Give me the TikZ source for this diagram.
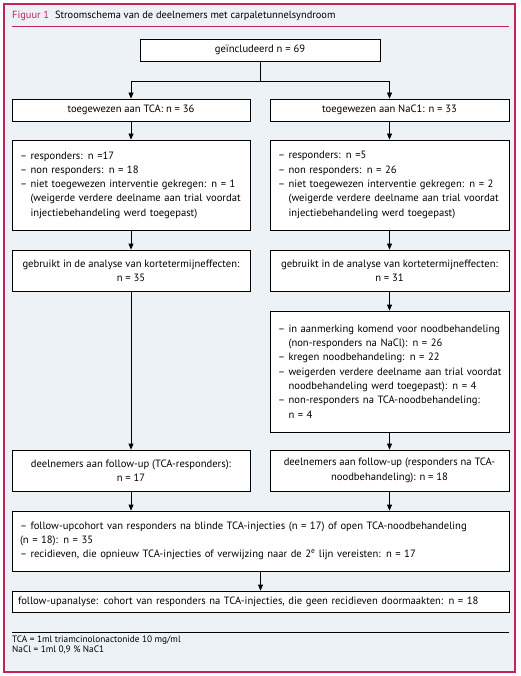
\documentclass[tikz,border=0pt]{standalone}
\usepackage{fontspec}
\setmainfont{PT Sans}
\usetikzlibrary{arrows.meta}
\definecolor{bgc}{RGB}{237,242,247}
\definecolor{framec}{RGB}{195,35,90}
\newcommand{\hangi}{\phantom{–\ }}
\begin{document}
\begin{tikzpicture}[x=1pt,y=-1pt,
  box/.style={draw=black, fill=white, line width=0.8pt, inner sep=0pt, font=\fontsize{10.6}{14.3}\selectfont},
  cbox/.style={box, align=center},
  lbox/.style={box, align=left, inner xsep=8pt},
  arr/.style={-{Triangle[length=6pt,width=5pt]}, line width=0.8pt},
  ln/.style={line width=0.8pt}]
\useasboundingbox (0,0) rectangle (520,676);
\draw[framec, line width=1.3pt, fill=bgc] (4,4) rectangle (515,672);
\node[anchor=west, inner sep=0pt, font=\fontsize{10.4}{12}\selectfont] (title) at (12,16)
  {\textcolor{framec}{Figuur 1}\hspace{6pt}Stroomschema van de deelnemers met carpaletunnelsyndroom};
\coordinate (t1) at (12,26);
\coordinate (t2) at (509,26);
\draw[framec, line width=0.8pt] (t1) -- (t2);

\node[cbox, minimum width=240pt, minimum height=22pt] (top) at (260,50) {geïncludeerd n = 69};
\node[cbox, minimum width=238pt, minimum height=22pt] (L1) at (131,110) {toegewezen aan TCA: n = 36};
\node[cbox, minimum width=239pt, minimum height=22pt] (R1) at (389.5,110) {toegewezen aan NaC1: n = 33};

\node[lbox, text width=222pt, minimum height=90pt] (L2) at (131,185) {%
– responders: n =17\\
– non responders: n = 18\\
– niet toegewezen interventie gekregen: n = 1\\
\hangi(weigerde verdere deelname aan trial voordat\\
\hangi injectiebehandeling werd toegepast)};
\node[lbox, text width=223pt, minimum height=90pt] (R2) at (389.5,185) {%
– responders: n =5\\
– non responders: n = 26\\
– niet toegewezen interventie gekregen: n = 2\\
\hangi(weigerde verdere deelname aan trial voordat\\
\hangi injectiebehandeling werd toegepast)};

\node[cbox, minimum width=238pt, minimum height=41pt] (L3) at (131,270.5) {gebruikt in de analyse van kortetermijneffecten:\\ n = 35};
\node[cbox, minimum width=239pt, minimum height=41pt] (R3) at (389.5,270.5) {gebruikt in de analyse van kortetermijneffecten:\\ n = 31};

\node[lbox, text width=223pt, minimum height=121pt] (R4) at (389.5,371.5) {%
\mbox{– in aanmerking komend voor noodbehandeling}\\
\hangi(non-responders na NaCl): n = 26\\
– kregen noodbehandeling: n = 22\\
\mbox{– weigerden verdere deelname aan trial voordat}\\
\hangi noodbehandeling werd toegepast): n = 4\\
– non-responders na TCA-noodbehandeling:\\
\hangi n = 4};

\node[cbox, minimum width=238pt, minimum height=41pt] (L5) at (131,470.5) {deelnemers aan follow-up (TCA-responders):\\ n = 17};
\node[cbox, minimum width=239pt, minimum height=41pt] (R5) at (389.5,470.5) {deelnemers aan follow-up (responders na TCA-\\ noodbehandeling): n = 18};

\node[lbox, text width=481pt, minimum height=60pt] (B6) at (260.5,541) {%
– follow-upcohort van responders na blinde TCA-injecties (n = 17) of open TCA-noodbehandeling\\
(n = 18): n = 35\\
– recidieven, die opnieuw TCA-injecties of verwijzing naar de 2\textsuperscript{e} lijn vereisten: n = 17};

\node[lbox, text width=485pt, minimum height=21pt, inner xsep=6pt] (B7) at (260.5,601.5) {%
follow-upanalyse: cohort van responders na TCA-injecties, die geen recidieven doormaakten: n = 18};

\coordinate (j) at (260,81);
\draw[ln] (top.south) -- (j);
\draw[arr] (j) -| (L1.north);
\draw[arr] (j) -| (R1.north);
\draw[arr] (L1.south) -- (L2.north);
\draw[arr] (R1.south) -- (R2.north);
\draw[arr] (L2.south) -- (L3.north);
\draw[arr] (R2.south) -- (R3.north);
\draw[arr] (R3.south) -- (R4.north);
\draw[arr] (L3.south) -- (L5.north);
\draw[arr] (R4.south) -- (R5.north);
\draw[arr] (L5.south) -- (L5.south |- B6.north);
\draw[arr] (R5.south) -- (R5.south |- B6.north);
\draw[arr] (B6.south) -- (B7.north);

\coordinate (s1) at (12,632);
\coordinate (s2) at (509,632);
\draw[line width=0.7pt] (s1) -- (s2);
\node[anchor=north west, inner sep=0pt, align=left, font=\fontsize{9.3}{9.6}\selectfont] (fn) at (12,636)
  {TCA = 1ml triamcinolonactonide 10 mg/ml\\ NaCl = 1ml 0,9 \% NaC1};
\end{tikzpicture}
\end{document}
